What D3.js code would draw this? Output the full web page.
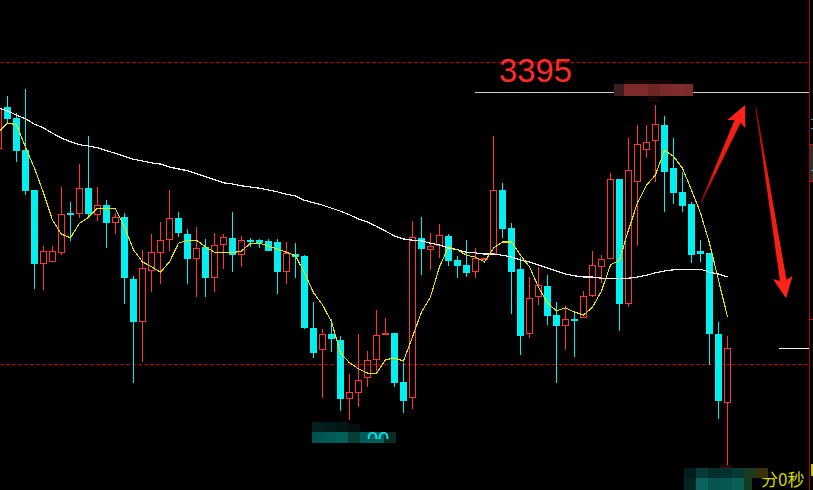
<!DOCTYPE html>
<html><head><meta charset="utf-8">
<script src="https://cdn.jsdelivr.net/npm/d3@7"></script>
<style>html,body{margin:0;padding:0;background:#000;overflow:hidden}</style>
</head><body>
<svg id="c" width="813" height="490"></svg>
<script>
// ---- data ----
const opens=[3385.6,3392.5,3390.7,3385.4,3378.8,3366.5,3366.9,3368.4,3375.0,3374.8,
3379.1,3374.7,3376.3,3373.3,3374.3,3364.1,3357.0,3365.4,3368.4,3370.5,
3374.2,3371.5,3367.4,3369.4,3364.2,3369.7,3370.9,3368.0,3370.5,3370.5,
3370.4,3370.2,3365.2,3368.2,3367.9,3356.0,3352.3,3355.0,3354.0,3344.2,
3345.2,3347.7,3350.7,3354.8,3355.1,3347.0,3344.4,3370.9,3368.9,3369.5,
3371.2,3367.2,3366.4,3365.2,3367.2,3368.2,3378.8,3372.5,3365.7,3355.0,
3361.1,3362.9,3358.1,3356.3,3357.5,3357.6,3361.2,3366.1,3367.4,3380.6,
3359.9,3380.1,3385.4,3386.9,3389.6,3382.4,3378.5,3376.5,3368.7,3368.4,
3355.0,3343.5];
const highs=[3392.4,3394.4,3391.6,3395.5,3378.8,3369.5,3369.5,3379.3,3376.8,3383.1,
3387.7,3379.3,3377.1,3375.0,3375.0,3364.6,3368.9,3371.5,3373.5,3378.8,
3375.2,3372.3,3372.7,3370.7,3371.7,3371.5,3375.2,3371.2,3370.9,3370.7,
3370.7,3370.7,3370.2,3370.0,3368.0,3360.3,3355.8,3357.5,3354.6,3348.3,
3355.0,3352.1,3358.9,3357.6,3355.1,3350.2,3373.7,3374.3,3371.7,3373.2,
3371.5,3367.9,3370.5,3369.2,3367.5,3387.7,3380.0,3373.3,3367.7,3364.4,
3366.1,3364.7,3360.3,3359.6,3358.6,3362.1,3368.7,3368.0,3381.6,3380.6,
3387.4,3389.6,3389.6,3392.9,3391.1,3387.4,3381.8,3376.8,3370.5,3368.4,
3357.0,3354.6];
const lows=[3385.6,3389.9,3383.4,3378.0,3362.4,3362.2,3366.9,3368.0,3370.4,3374.2,
3374.3,3373.7,3369.2,3371.5,3359.9,3346.9,3350.3,3361.9,3363.2,3368.7,
3371.0,3363.2,3361.1,3361.1,3361.9,3365.7,3365.2,3366.1,3369.4,3369.2,
3368.7,3361.6,3363.2,3364.2,3355.8,3351.0,3344.4,3352.0,3342.2,3340.7,
3342.9,3346.2,3348.8,3354.8,3346.2,3341.9,3342.5,3364.7,3365.6,3367.5,
3366.2,3364.2,3364.4,3364.2,3367.2,3368.2,3370.9,3358.3,3351.5,3354.3,
3359.8,3356.5,3346.9,3352.3,3351.2,3357.6,3361.1,3363.4,3367.4,3355.5,
3359.4,3369.5,3384.1,3380.1,3375.2,3376.5,3375.2,3366.7,3366.9,3349.8,
3340.9,3332.9];
const closes=[3392.4,3390.6,3385.3,3378.6,3366.5,3368.7,3368.7,3374.8,3374.7,3379.1,
3374.8,3376.3,3373.3,3374.3,3364.2,3357.0,3365.9,3368.5,3370.5,3374.2,
3371.7,3367.4,3369.2,3364.2,3369.7,3371.0,3368.0,3370.5,3370.2,3370.0,
3368.7,3365.2,3368.4,3367.7,3356.0,3351.8,3355.0,3354.1,3344.2,3345.4,
3347.3,3350.7,3354.8,3355.1,3346.9,3343.9,3371.0,3369.0,3369.5,3371.4,
3367.0,3366.2,3365.1,3367.5,3367.5,3378.8,3372.3,3365.2,3354.6,3360.9,
3363.1,3357.9,3356.3,3357.5,3357.1,3361.2,3366.4,3367.4,3380.6,3359.9,
3382.1,3386.4,3386.8,3389.7,3381.8,3378.3,3376.2,3368.0,3368.2,3355.0,
3343.9,3352.6];
const maFast=[3388.4,3389.9,3389.6,3385.9,3382.4,3378.3,3373.8,3371.5,3370.9,3373.3,
3374.3,3375.8,3375.7,3375.7,3372.7,3368.9,3366.9,3366.1,3365.2,3366.9,
3370.0,3370.5,3370.5,3369.4,3368.5,3368.4,3368.4,3368.7,3370.0,3370.0,
3369.5,3369.0,3368.5,3367.9,3365.1,3361.8,3359.8,3357.0,3351.8,3350.2,
3349.2,3348.5,3348.5,3350.7,3351.0,3350.5,3354.5,3358.6,3361.1,3366.1,
3369.4,3368.9,3368.0,3367.7,3366.9,3369.2,3370.2,3370.2,3368.0,3366.1,
3362.7,3360.1,3358.8,3359.3,3358.6,3358.1,3359.4,3362.1,3366.4,3367.2,
3372.2,3376.7,3379.6,3381.3,3385.4,3384.4,3382.4,3378.8,3375.0,3370.0,
3363.9,3357.8];
const maSlow=[3392.4,3391.9,3391.2,3390.6,3389.7,3389.1,3388.2,3387.4,3386.8,3386.3,
3386.1,3385.8,3385.3,3384.9,3384.4,3383.9,3383.6,3383.3,3383.1,3382.6,
3382.3,3382.0,3381.5,3381.0,3380.5,3380.0,3379.8,3379.5,3379.3,3379.1,
3378.8,3378.5,3378.1,3377.8,3377.1,3376.7,3376.3,3375.8,3375.3,3374.7,
3374.0,3373.5,3372.8,3372.0,3371.2,3370.7,3370.5,3370.4,3370.0,3369.7,
3369.2,3368.9,3368.5,3368.4,3368.2,3368.2,3368.0,3367.7,3367.2,3366.9,
3366.4,3365.9,3365.4,3364.9,3364.6,3364.4,3364.4,3364.2,3364.2,3364.1,
3364.2,3364.4,3364.7,3365.1,3365.4,3365.6,3365.7,3365.7,3365.7,3365.2,
3364.9,3364.4];
const dashedLevels=[3400,3350];
const markLevel=3395;
const markLabel="3395";
const timerText="分0秒";
const hiddenText="00";
// arrows in data coords: [candle index, price]
const arrows=[{from:[78.1,3376.7],to:[83.0,3392.9]},{from:[84.2,3392.5],to:[87.56,3360.9]}];

// ---- drawing ----
const W=813,H=490,UP="#ff3535",DN="#00f0f0";
const svg=d3.select('#c');
svg.append('rect').attr('width',W).attr('height',H).attr('fill','#000');
const x=d3.scaleLinear().domain([0,81]).range([-2,727]);
const y=d3.scaleLinear().domain([3350,3400]).range([364,62]);
const R=v=>Math.round(v);

// dashed levels
svg.selectAll('line.lvl').data(dashedLevels).enter().append('line')
 .attr('x1',0).attr('x2',809).attr('y1',d=>R(y(d))+0.5).attr('y2',d=>R(y(d))+0.5)
 .attr('stroke','#b00000').attr('stroke-width',1).attr('stroke-dasharray','4,2');

// 3395 mark line
svg.append('line').attr('x1',475).attr('x2',809).attr('y1',R(y(markLevel))+0.5).attr('y2',R(y(markLevel))+0.5)
 .attr('stroke','#d0d0d0').attr('stroke-width',1);
svg.append('text').attr('x',499).attr('y',82).text(markLabel)
 .attr('fill','#ff2a2a').attr('font-family','Liberation Sans, Arial, sans-serif')
 .attr('font-size',34).attr('textLength',73).attr('lengthAdjust','spacingAndGlyphs');

// candles
const data=opens.map((o,i)=>({i,o,h:highs[i],l:lows[i],c:closes[i]}));
const cg=svg.append('g');
data.forEach(d=>{
  const cx=R(x(d.i)), up=d.c>=d.o;
  const top=R(y(Math.max(d.o,d.c))), bot=R(y(Math.min(d.o,d.c)));
  const yh=R(y(d.h)), yl=R(y(d.l));
  if(up){
    if(yh<top) cg.append('line').attr('x1',cx+0.5).attr('x2',cx+0.5).attr('y1',yh).attr('y2',top).attr('stroke',UP);
    if(yl>bot) cg.append('line').attr('x1',cx+0.5).attr('x2',cx+0.5).attr('y1',bot).attr('y2',yl).attr('stroke',UP);
    if(bot-top<=2){
      cg.append('rect').attr('x',cx-3).attr('y',top).attr('width',7).attr('height',Math.max(bot-top,2)).attr('fill',UP);
    } else {
      cg.append('rect').attr('x',cx-2.5).attr('y',top+0.5).attr('width',6).attr('height',bot-top-1)
        .attr('fill','none').attr('stroke',UP).attr('stroke-width',1);
    }
  } else {
    cg.append('line').attr('x1',cx+0.5).attr('x2',cx+0.5).attr('y1',yh).attr('y2',yl).attr('stroke',DN);
    cg.append('rect').attr('x',cx-3).attr('y',top).attr('width',7).attr('height',Math.max(bot-top,2)).attr('fill',DN);
  }
});

// moving averages
const line=d3.line().x((v,i)=>x(i)+0.5).y(v=>y(v));
svg.append('path').attr('d',line(maSlow)).attr('fill','none').attr('stroke','#f0f0f0').attr('stroke-width',1.2).attr('shape-rendering','crispEdges');
svg.append('path').attr('d',line(maFast)).attr('fill','none').attr('stroke','#e6e600').attr('stroke-width',1.1).attr('shape-rendering','crispEdges');

// arrows
const defs=svg.append('defs');
arrows.forEach((a,k)=>{
  const T=[x(a.from[0]),y(a.from[1])], P=[x(a.to[0]),y(a.to[1])];
  const dx=P[0]-T[0], dy=P[1]-T[1], len=Math.hypot(dx,dy);
  const u=[dx/len,dy/len], n=[-u[1],u[0]];
  const hl=18, hw=10, sw=3.3, tw=0.5;
  const B=[P[0]-u[0]*hl,P[1]-u[1]*hl];
  const Bb=[P[0]-u[0]*(hl+3),P[1]-u[1]*(hl+3)];
  const pts=[[T[0]+n[0]*tw,T[1]+n[1]*tw],[B[0]+n[0]*sw,B[1]+n[1]*sw],[Bb[0]+n[0]*hw,Bb[1]+n[1]*hw],P,
    [Bb[0]-n[0]*hw,Bb[1]-n[1]*hw],[B[0]-n[0]*sw,B[1]-n[1]*sw],[T[0]-n[0]*tw,T[1]-n[1]*tw]];
  const gid='ag'+k;
  const gr=defs.append('linearGradient').attr('id',gid).attr('gradientUnits','userSpaceOnUse')
    .attr('x1',T[0]).attr('y1',T[1]).attr('x2',P[0]).attr('y2',P[1]);
  gr.append('stop').attr('offset','0').attr('stop-color','#8a0c08');
  gr.append('stop').attr('offset','0.35').attr('stop-color','#e81a12');
  gr.append('stop').attr('offset','1').attr('stop-color','#ff2418');
  svg.append('polygon').attr('points',pts.map(p=>p.join(',')).join(' ')).attr('fill','url(#'+gid+')');
});

// right side panel
svg.append('line').attr('x1',809.5).attr('x2',809.5).attr('y1',0).attr('y2',H).attr('stroke','#b00000');
svg.append('rect').attr('x',810).attr('y',145).attr('width',3).attr('height',36).attr('fill','#2e2e2e');
[144,181,319].forEach(v=>svg.append('rect').attr('x',809).attr('y',v).attr('width',4).attr('height',1).attr('fill','#d01010'));
[119,128,170].forEach(v=>svg.append('rect').attr('x',811).attr('y',v).attr('width',2).attr('height',1).attr('fill','#3a9ae0'));
svg.append('rect').attr('x',811).attr('y',464).attr('width',2).attr('height',12).attr('fill','#c8c800');
svg.append('line').attr('x1',779).attr('x2',809).attr('y1',348.5).attr('y2',348.5).attr('stroke','#f0f0f0');

// pixelated blocks (top)
[[614,84,10,12,'#3c1e1e'],[624,84,24,12,'#802b2b'],[648,84,12,12,'#6b2626'],[660,84,12,12,'#7a2a2a'],
 [672,84,12,12,'#7f2c2c'],[684,84,9,12,'#7a2b2b'],[624,80,48,4,'#140606'],[648,96,12,6,'#1a0505']]
 .forEach(b=>svg.append('rect').attr('x',b[0]).attr('y',b[1]).attr('width',b[2]).attr('height',b[3]).attr('fill',b[4]));

// bottom middle pixelated blocks + partial text
[[312,422,12,10,'#03201f'],[324,422,12,10,'#031c1b'],[336,422,12,10,'#021615'],[348,424,12,8,'#020f0e'],
 [312,432,12,11,'#005450'],[324,432,12,11,'#005a55'],[336,432,12,11,'#00605a'],[348,432,12,11,'#053d38'],
 [360,432,12,11,'#005a55'],[372,432,12,11,'#00605a'],[384,432,12,11,'#0a2a25']]
 .forEach(b=>svg.append('rect').attr('x',b[0]).attr('y',b[1]).attr('width',b[2]).attr('height',b[3]).attr('fill',b[4]));
defs.append('clipPath').attr('id','clipT').append('rect').attr('x',360).attr('y',425).attr('width',40).attr('height',14);
svg.append('text').attr('x',367).attr('y',446).text(hiddenText).attr('fill','#00e8f0')
 .attr('font-family','Liberation Sans, Arial, sans-serif').attr('font-size',20).attr('clip-path','url(#clipT)');

// bottom right timer text + pixelated blocks
svg.append('text').attr('x',761).attr('y',486).text(timerText).attr('fill','#d8d800')
 .attr('font-family','Noto Sans CJK SC, sans-serif').attr('font-size',17);
[[720,465,12,3,'#2a0808'],
 [684,468,12,10,'#041c1c'],[696,468,12,10,'#053c3a'],[708,468,12,10,'#042e2c'],[720,468,12,10,'#04302e'],
 [732,468,12,10,'#053a38'],[744,468,12,10,'#1e3a20'],[756,468,12,10,'#3a3008'],
 [684,478,12,12,'#032525'],[696,478,12,12,'#0a6560'],[708,478,12,12,'#085550'],[720,478,12,12,'#085852'],
 [732,478,12,12,'#096058'],[744,478,8,12,'#143a20']]
 .forEach(b=>svg.append('rect').attr('x',b[0]).attr('y',b[1]).attr('width',b[2]).attr('height',b[3]).attr('fill',b[4]));
</script>
</body></html>
